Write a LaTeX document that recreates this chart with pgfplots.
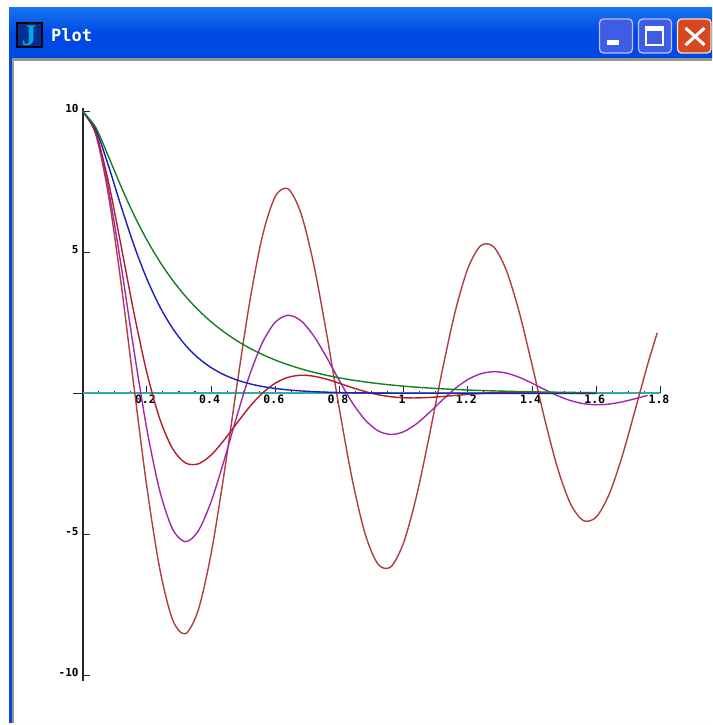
\documentclass[border=0pt]{standalone}
\usepackage{pgfplots}
\usepackage{fontspec}
\pgfplotsset{compat=1.18}
\setmainfont{DejaVu Sans Mono}
\newfontfamily\titlefont{DejaVu Sans Mono}
\newfontfamily\iconfont{Liberation Serif}
\definecolor{xpblue}{RGB}{0,72,228}
\definecolor{xplight}{RGB}{25,115,240}
\definecolor{xpgray}{RGB}{150,150,140}
\definecolor{btnblue}{RGB}{62,92,228}
\definecolor{btnred}{RGB}{214,72,32}
\definecolor{cfire}{RGB}{176,62,62}
\definecolor{cpurple}{RGB}{165,40,170}
\definecolor{cred}{RGB}{178,30,40}
\definecolor{cblue}{RGB}{30,30,185}
\definecolor{cgreen}{RGB}{25,125,35}
\definecolor{cteal}{RGB}{50,170,170}
\pgfplotstableread{
x y
0.00 10.000
0.04 9.222
0.08 7.048
0.12 3.865
0.16 0.212
0.20 -3.332
0.24 -6.223
0.28 -8.034
0.32 -8.532
0.36 -7.690
0.40 -5.692
0.44 -2.890
0.48 0.249
0.52 3.226
0.56 5.590
0.60 6.991
0.64 7.258
0.68 6.391
0.72 4.569
0.76 2.111
0.80 -0.577
0.84 -3.070
0.88 -4.990
0.92 -6.064
0.96 -6.156
1.00 -5.292
1.04 -3.643
1.08 -1.494
1.12 0.801
1.16 2.883
1.20 4.436
1.24 5.242
1.28 5.206
1.32 4.365
1.36 2.881
1.40 1.010
1.44 -0.944
1.48 -2.675
1.52 -3.925
1.56 -4.518
1.60 -4.388
1.64 -3.585
1.68 -2.258
1.72 -0.633
1.76 1.025
1.79 2.150
}\seriesA
\pgfplotstableread{
x y
0.00 10.000
0.04 9.251
0.08 7.263
0.12 4.510
0.16 1.505
0.20 -1.275
0.24 -3.456
0.28 -4.813
0.32 -5.266
0.36 -4.884
0.40 -3.846
0.44 -2.399
0.48 -0.818
0.52 0.650
0.56 1.805
0.60 2.527
0.64 2.773
0.68 2.578
0.72 2.036
0.76 1.277
0.80 0.444
0.84 -0.331
0.88 -0.943
0.92 -1.327
0.96 -1.460
1.00 -1.361
1.04 -1.078
1.08 -0.679
1.12 -0.241
1.16 0.168
1.20 0.492
1.24 0.696
1.28 0.769
1.32 0.719
1.36 0.571
1.40 0.361
1.44 0.130
1.48 -0.085
1.52 -0.257
1.56 -0.366
1.60 -0.405
1.64 -0.379
1.68 -0.302
1.72 -0.192
1.76 -0.071
}\seriesB
\pgfplotstableread{
x y
0.00 10.000
0.04 9.288
0.08 7.516
0.12 5.215
0.16 2.838
0.20 0.729
0.24 -0.901
0.28 -1.963
0.32 -2.468
0.36 -2.502
0.40 -2.189
0.44 -1.665
0.48 -1.060
0.52 -0.478
0.56 0.010
0.60 0.363
0.64 0.570
0.68 0.644
0.72 0.609
0.76 0.503
0.80 0.358
0.84 0.203
0.88 0.064
0.92 -0.046
0.96 -0.119
1.00 -0.156
1.04 -0.162
1.08 -0.145
1.12 -0.112
1.16 -0.073
1.20 -0.036
1.24 -0.003
1.28 0.021
1.32 0.035
1.36 0.030
1.44 0.010
1.60 0.000
}\seriesC
\pgfplotstableread{
x y
0.00 10.000
0.04 9.384
0.08 8.088
0.12 6.626
0.16 5.249
0.20 4.060
0.24 3.084
0.28 2.311
0.32 1.712
0.36 1.257
0.40 0.916
0.44 0.663
0.48 0.477
0.52 0.342
0.56 0.244
0.60 0.174
0.64 0.123
0.68 0.087
0.72 0.061
0.76 0.043
0.80 0.030
0.84 0.021
0.88 0.015
1.00 0.005
1.60 0.000
}\seriesD
\pgfplotstableread{
x y
0.00 10.000
0.04 9.452
0.08 8.417
0.12 7.330
0.16 6.329
0.20 5.446
0.24 4.679
0.28 4.019
0.32 3.449
0.36 2.960
0.40 2.541
0.44 2.181
0.48 1.872
0.52 1.606
0.56 1.379
0.60 1.183
0.64 1.016
0.68 0.872
0.72 0.748
0.76 0.642
0.80 0.551
0.84 0.473
0.88 0.406
0.92 0.348
0.96 0.299
1.00 0.257
1.04 0.220
1.08 0.189
1.12 0.162
1.16 0.139
1.20 0.119
1.24 0.102
1.28 0.088
1.32 0.076
1.36 0.065
1.40 0.056
1.44 0.048
1.48 0.041
1.52 0.035
1.56 0.030
1.60 0.026
}\seriesE
\pgfplotstableread{
x y
-0.03 0
0.00 0
}\seriesStub
\pgfplotstableread{
x y
0 -10.21
0 10.12
}\seriesAxis
\begin{document}
\begin{tikzpicture}[x=1pt,y=1pt]
\useasboundingbox (0,0) rectangle (712,725);
\fill[white] (0,0) rectangle (712,725);
% window frame
\fill[xpblue] (9,2) rectangle (12,666);
\shade[top color=xplight,bottom color=xpblue,middle color=xpblue] (9,666) rectangle (712,717);
\fill[xpgray] (12,664) rectangle (712,666.5);
\fill[xpgray] (12,2) rectangle (14,666);
\draw[yellow!30!white,line width=1pt,dash pattern=on 2pt off 5pt] (14,1) -- (712,1);
% icon
\fill[black] (16,677) rectangle (43,703);
\fill[xpblue!65!black] (18,679) rectangle (41,701);
\node[text=cyan!90!green,font=\iconfont\bfseries\fontsize{30}{30}\selectfont,inner sep=0pt] at (29,689.5) {J};
% title
\node[text=white,font=\titlefont\bfseries\fontsize{17}{17}\selectfont,inner sep=0pt,anchor=west] at (51,689.5) {Plot};
% buttons
\draw[white!75!blue,line width=1.3pt,fill=btnblue,rounded corners=4pt] (599.5,672) rectangle (632.5,706);
\fill[white] (607,680) rectangle (619,685);
\draw[white!75!blue,line width=1.3pt,fill=btnblue,rounded corners=4pt] (638.5,672) rectangle (671.5,706);
\draw[white,line width=1.2pt] (646,680) rectangle (663,698);
\fill[white] (646,694) rectangle (663,698);
\draw[white!75!orange,line width=1.3pt,fill=btnred,rounded corners=4pt] (677.5,672) rectangle (711,706);
\draw[white,line width=3pt] (685.5,680) -- (704.5,697) (685.5,697) -- (704.5,680);
% plot
\begin{axis}[
  at={(73.07pt,44pt)},anchor=south west,
  scale only axis,width=587.4pt,height=572.7pt,
  xmin=-0.03,xmax=1.8,ymin=-10.21,ymax=10.12,
  axis lines=middle,
  separate axis lines,
  x axis line style={draw=none,-},
  y axis line style={draw=none,-},
  clip=false,
  tick align=inside,
  major tick length=7pt,minor tick length=2.2pt,
  tick style={line width=1.1pt,color=black!85},
  ytick style={line width=1.1pt,color=black!85},
  xtick={0.2,0.4,0.6,0.8,1,1.2,1.4,1.6,1.8},
  xticklabels={0.2,0.4,0.6,0.8,1,1.2,1.4,1.6,1.8},
  minor xtick={0.05,0.1,0.15,0.25,0.3,0.35,0.45,0.5,0.55,0.65,0.7,0.75,0.85,0.9,0.95,1.05,1.1,1.15,1.25,1.3,1.35,1.45,1.5,1.55,1.65,1.7,1.75},
  ytick={-10,-5,5,10},
  yticklabels={-10,-5,5,10},
  xticklabel style={font=\bfseries\fontsize{11.5}{12}\selectfont,anchor=north,inner sep=0pt,text height=9pt,text depth=0pt,xshift=-1.5pt,yshift=-0.5pt},
  yticklabel style={font=\bfseries\fontsize{11}{12}\selectfont,anchor=east,inner sep=0pt,xshift=-4pt,yshift=2.7pt},
]
\addplot[black!85,line width=1.7pt,forget plot] table[x=x,y=y] {\seriesAxis};
\addplot[black!85,line width=1.4pt,forget plot] table[x=x,y=y] {\seriesStub};
\addplot[cteal,line width=1.8pt,forget plot] coordinates {(0,0) (0.5,0) (1,0) (1.5,0) (1.8,0)};
\addplot[cfire,line width=1.4pt,smooth,forget plot] table[x=x,y=y] {\seriesA};
\addplot[cpurple,line width=1.4pt,smooth,forget plot] table[x=x,y=y] {\seriesB};
\addplot[cred,line width=1.4pt,smooth,forget plot] table[x=x,y=y] {\seriesC};
\addplot[cblue,line width=1.4pt,smooth,forget plot] table[x=x,y=y] {\seriesD};
\addplot[cgreen,line width=1.4pt,smooth,forget plot] table[x=x,y=y] {\seriesE};
\end{axis}
\end{tikzpicture}
\end{document}
